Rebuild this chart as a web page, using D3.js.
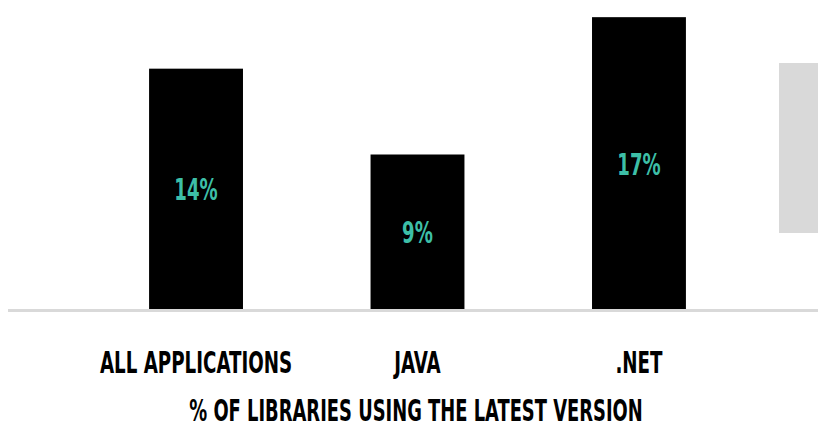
<!DOCTYPE html>
<html>
<head>
<meta charset="utf-8">
<script src="https://cdn.jsdelivr.net/npm/d3@7"></script>
<style>
    html, body { margin: 0; padding: 0; background: #fff; overflow: hidden; }
    text { font-family: "Liberation Sans Narrow", "DejaVu Sans Condensed", sans-serif; font-weight: bold; }
</style>
</head>
<body>
<div class="graph"></div>
<script>
// Chart data
const categories = ["ALL APPLICATIONS", "JAVA", ".NET"];
const values = [14, 9, 17];
const valueLabels = ["14%", "9%", "17%"];
const axisTitle = "% OF LIBRARIES USING THE LATEST VERSION";

const plotVars = ({
    width: 818,
    height: 428,
    baseline: 309,   // y of the zero line
    top: 0
});

const svg = d3.select(".graph").append("svg")
    .attr("width", plotVars.width)
    .attr("height", plotVars.height)
    .style("display", "block");

const xScale = d3.scaleBand().domain(categories)
    .range([8, 827]).paddingInner(0.576).paddingOuter(0.637);
const yScale = d3.scaleLinear().domain([0, 18]).range([plotVars.baseline, plotVars.top]);

// grey box on the right (legend area in the original)
svg.append("rect")
    .attr("x", 779).attr("y", 63)
    .attr("width", 39).attr("height", 170)
    .attr("fill", "#d9d9d9");

// zero line
svg.append("line")
    .attr("x1", 8).attr("x2", plotVars.width)
    .attr("y1", plotVars.baseline + 1.5).attr("y2", plotVars.baseline + 1.5)
    .attr("stroke", "#d9d9d9").attr("stroke-width", 3);

const rows = categories.map((c, i) => ({ cat: c, value: values[i], label: valueLabels[i] }));

svg.selectAll("rect.bar")
    .data(rows)
    .join("rect")
    .attr("class", "bar")
    .attr("x", d => xScale(d.cat))
    .attr("y", d => yScale(d.value))
    .attr("width", xScale.bandwidth())
    .attr("height", d => yScale(0) - yScale(d.value))
    .attr("fill", "#000");

// condensed look: squeeze the font horizontally
function condensed(sel, k) {
    sel.attr("transform", function () {
        const x = +this.getAttribute("data-x"), y = +this.getAttribute("data-y");
        return `translate(${x},${y}) scale(${k},1)`;
    });
}

svg.selectAll("text.value")
    .data(rows)
    .join("text")
    .attr("class", "value")
    .attr("data-x", d => xScale(d.cat) + xScale.bandwidth() / 2)
    .attr("data-y", d => (yScale(d.value) + yScale(0)) / 2 + 11.5)
    .attr("text-anchor", "middle")
    .attr("font-size", 31)
    .attr("fill", "#3dbfa7")
    .text(d => d.label)
    .call(condensed, 0.65);

svg.selectAll("text.cat")
    .data(rows)
    .join("text")
    .attr("class", "cat")
    .attr("data-x", d => xScale(d.cat) + xScale.bandwidth() / 2)
    .attr("data-y", 373)
    .attr("text-anchor", "middle")
    .attr("font-size", 31)
    .attr("fill", "#000")
    .text(d => d.cat)
    .call(condensed, 0.655);

svg.append("text")
    .attr("data-x", 416)
    .attr("data-y", 421)
    .attr("text-anchor", "middle")
    .attr("font-size", 31)
    .attr("fill", "#000")
    .text(axisTitle)
    .call(condensed, 0.642);
</script>
</body>
</html>
